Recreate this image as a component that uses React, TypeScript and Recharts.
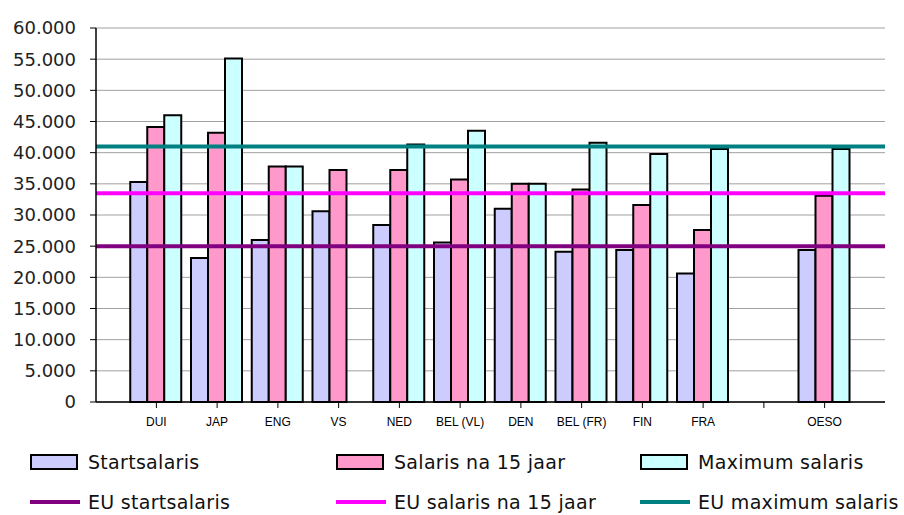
import React from 'react'
import {
  BarChart,
  Bar,
  XAxis,
  YAxis,
  CartesianGrid,
  ReferenceLine,
} from 'recharts'

// landen (lege categorie tussen FRA en OESO)
const categories = ['DUI', 'JAP', 'ENG', 'VS', 'NED', 'BEL (VL)', 'DEN', 'BEL (FR)', 'FIN', 'FRA', '', 'OESO']
const startsalaris = [35300, 23100, 26000, 30600, 28400, 25600, 31000, 24100, 24400, 20600, null, 24400]
const salaris15 = [44100, 43200, 37800, 37200, 37200, 35700, 35000, 34100, 31600, 27600, null, 33100]
const maximumSalaris = [46000, 55100, 37800, null, 41300, 43500, 35000, 41600, 39800, 40600, null, 40600]

// EU-gemiddelden
const euStart = 25000
const eu15 = 33500
const euMax = 41000

const yTicks = [0, 5000, 10000, 15000, 20000, 25000, 30000, 35000, 40000, 45000, 50000, 55000, 60000]

const barSeries = [
  { key: 'start', name: 'Startsalaris', color: '#ccccff' },
  { key: 's15', name: 'Salaris na 15 jaar', color: '#ff99cc' },
  { key: 'max', name: 'Maximum salaris', color: '#ccffff' },
]
const lineSeries = [
  { value: euStart, name: 'EU startsalaris', color: '#800080' },
  { value: eu15, name: 'EU salaris na 15 jaar', color: '#ff00ff' },
  { value: euMax, name: 'EU maximum salaris', color: '#008080' },
]

const data = categories.map((name, i) => ({
  name,
  start: startsalaris[i],
  s15: salaris15[i],
  max: maximumSalaris[i],
}))

const formatY = (v: number) => String(v).replace(/\B(?=(\d{3})+(?!\d))/g, '.')

const legendCols = [30, 336, 640]
const font = '"DejaVu Sans", sans-serif'

export default function App() {
  return (
    <div style={{ position: 'absolute', left: 0, top: 0, width: 904, height: 515, background: '#fff', overflow: 'hidden' }}>
      <BarChart
        width={904}
        height={440}
        data={data}
        margin={{ top: 28, right: 19, left: 0, bottom: 0 }}
        barCategoryGap="7%"
        barGap={0}
      >
        <CartesianGrid vertical={false} stroke="#a0a0a0" strokeWidth={1} />
        <XAxis
          xAxisId="edge"
          type="number"
          domain={[0, 1]}
          ticks={[0, 1]}
          height={0}
          axisLine={false}
          tick={false}
          tickLine={{ stroke: '#000' }}
          tickSize={6}
        />
        <XAxis
          dataKey="name"
          height={38}
          padding={{ left: 30, right: 30 }}
          interval={0}
          axisLine={{ stroke: '#000', strokeWidth: 1.5 }}
          tickLine={{ stroke: '#000' }}
          tickSize={6}
          tickMargin={9}
          tick={{ fontFamily: '"Liberation Sans", Arial, sans-serif', fontSize: 12, fill: '#000' }}
        />
        <YAxis
          width={96}
          domain={[0, 60000]}
          ticks={yTicks}
          interval={0}
          tickFormatter={formatY}
          axisLine={{ stroke: '#000', strokeWidth: 1.5 }}
          tickLine={{ stroke: '#000' }}
          tickSize={6}
          tickMargin={14}
          tick={{ fontFamily: font, fontSize: 18, fill: '#222' }}
        />
        {barSeries.map(s => (
          <Bar
            key={s.key}
            dataKey={s.key}
            name={s.name}
            fill={s.color}
            stroke="#000"
            strokeWidth={2}
            isAnimationActive={false}
          />
        ))}
        {lineSeries.map(l => (
          <ReferenceLine key={l.name} y={l.value} stroke={l.color} strokeWidth={4} />
        ))}
      </BarChart>
      {barSeries.map((s, i) => (
        <div key={s.key} style={{ position: 'absolute', left: legendCols[i], top: 451, display: 'flex', alignItems: 'center', fontFamily: font, fontSize: 19, letterSpacing: 0.3, color: '#111', whiteSpace: 'nowrap' }}>
          <div style={{ width: 44, height: 12, background: s.color, border: '2px solid #000', marginRight: 10 }} />
          <span>{s.name}</span>
        </div>
      ))}
      {lineSeries.map((l, i) => (
        <div key={l.name} style={{ position: 'absolute', left: legendCols[i], top: 491, display: 'flex', alignItems: 'center', fontFamily: font, fontSize: 19, letterSpacing: 0.3, color: '#111', whiteSpace: 'nowrap' }}>
          <div style={{ width: 50, height: 4, background: l.color, marginRight: 8 }} />
          <span>{l.name}</span>
        </div>
      ))}
    </div>
  )
}
